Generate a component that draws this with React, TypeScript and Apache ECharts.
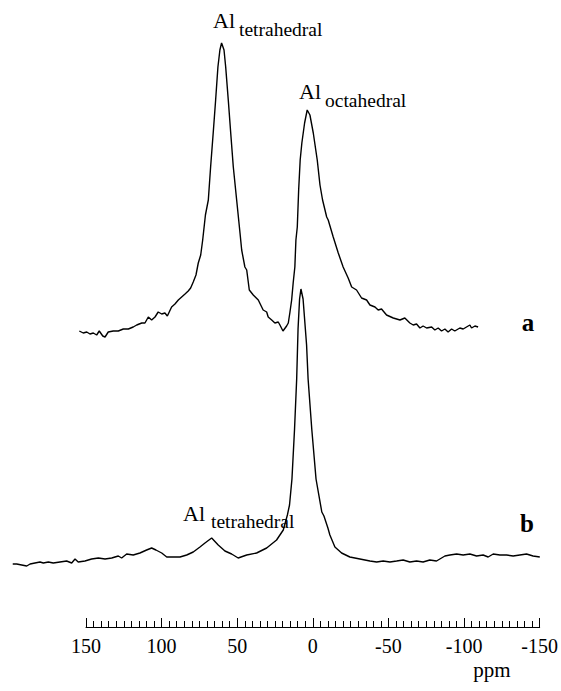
import React, { useEffect, useRef } from "react";
import * as echarts from "echarts";

// Chemical shift (ppm) and intensity (arbitrary units)
const traceA: [number, number][] = [
  [154.4, 296], [151.8, 294], [149.5, 295], [147.4, 293], [145.2, 294], [143.0, 292],
  [141.3, 296], [139.0, 291], [137.5, 290], [135.4, 295], [132.1, 296], [128.8, 296],
  [125.5, 298], [122.2, 298], [119.0, 300], [116.7, 302], [113.4, 304], [111.3, 304],
  [109.1, 310], [106.9, 307], [104.7, 310], [102.6, 315], [100.3, 313], [98.2, 314],
  [96.6, 311], [93.8, 320], [91.6, 323], [89.4, 327], [87.2, 330], [85.0, 333],
  [82.9, 336], [81.3, 339], [79.6, 345], [77.8, 352], [76.3, 364], [74.7, 372],
  [73.4, 387], [71.6, 412], [69.7, 427], [68.2, 460], [66.5, 494], [64.9, 527],
  [63.4, 560], [62.1, 577], [61.0, 584], [59.4, 577], [58.3, 560], [56.6, 527],
  [55.0, 494], [53.3, 460], [51.1, 427], [48.9, 394], [47.8, 377], [45.7, 360],
  [44.5, 357], [42.8, 337], [40.2, 332], [36.9, 327], [33.7, 317], [31.4, 315],
  [30.4, 310], [28.1, 307], [26.0, 304], [23.8, 305], [22.7, 302], [20.7, 296],
  [18.3, 301], [17.2, 304], [16.1, 315], [15.0, 327], [14.0, 344], [12.9, 360],
  [12.2, 387], [11.3, 400], [10.4, 437], [9.4, 467], [8.3, 484], [6.5, 504],
  [4.8, 517], [3.0, 512], [0.8, 494], [-1.8, 467], [-3.6, 442], [-5.3, 427],
  [-8.0, 410], [-9.0, 407], [-12.3, 390], [-15.6, 374], [-18.8, 360], [-22.1, 349],
  [-24.4, 340], [-27.6, 337], [-30.9, 329], [-34.2, 327], [-36.4, 322], [-39.7, 320],
  [-41.8, 317], [-44.0, 318], [-47.3, 312], [-51.7, 309], [-56.1, 307], [-59.3, 309],
  [-62.6, 304], [-64.8, 302], [-67.0, 303], [-69.2, 299], [-71.3, 301], [-73.6, 299],
  [-76.9, 300], [-79.0, 297], [-81.2, 299], [-83.4, 296], [-85.6, 298], [-87.7, 295],
  [-90.0, 298], [-92.1, 296], [-95.4, 299], [-97.6, 298], [-99.8, 300], [-102.0, 302],
  [-103.1, 299], [-105.3, 301], [-107.4, 300],
];

const traceB: [number, number][] = [
  [198.1, 63], [195.5, 63], [192.2, 62], [188.9, 61], [186.7, 63], [183.5, 64],
  [180.2, 65], [178.0, 64], [174.7, 65], [171.5, 64], [167.1, 65], [162.7, 66],
  [159.4, 64], [157.2, 68], [155.1, 65], [150.7, 66], [146.3, 68], [141.9, 69],
  [137.5, 68], [133.1, 69], [128.8, 71], [126.6, 69], [123.3, 73], [119.0, 72],
  [114.6, 74], [110.2, 77], [106.9, 79], [104.1, 77], [100.3, 74], [97.0, 70],
  [92.7, 70], [88.3, 70], [83.9, 72], [79.6, 75], [75.2, 80], [71.9, 84],
  [67.5, 89], [63.2, 82], [58.8, 76], [54.4, 73], [50.1, 69], [44.5, 72],
  [38.0, 74], [31.4, 79], [24.9, 87], [20.5, 97], [17.8, 112], [16.4, 122],
  [14.8, 148], [13.1, 198], [11.7, 248], [10.8, 298], [9.8, 328], [8.9, 338],
  [7.5, 328], [6.0, 298], [5.2, 282], [4.2, 248], [1.8, 198], [-1.0, 148],
  [-4.8, 115], [-6.2, 111], [-8.8, 99], [-10.1, 92], [-13.4, 80], [-17.8, 74],
  [-23.2, 70], [-29.8, 68], [-36.4, 66], [-40.8, 65], [-45.1, 66], [-49.5, 65],
  [-53.9, 66], [-58.2, 67], [-62.6, 65], [-67.0, 66], [-71.3, 65], [-75.7, 67],
  [-80.1, 66], [-83.4, 69], [-85.6, 71], [-88.9, 72], [-93.3, 73], [-97.6, 72],
  [-102.0, 73], [-106.4, 71], [-110.7, 72], [-114.0, 70], [-117.3, 73], [-121.7, 72],
  [-126.1, 72], [-130.4, 71], [-134.8, 72], [-139.2, 73], [-143.5, 71], [-147.9, 70],
];

// visible ppm ruler
const axisMin = -150;
const axisMax = 150;
const axisStep = 50;
// full chemical-shift window covered by the recorded spectra
const spectrumMin = -150;
const spectrumMax = 200;
const axisTitle = "ppm";
const traceLabels = ["a", "b"];
const peakLabels = [
  { main: "Al", sub: "tetrahedral" },
  { main: "Al", sub: "octahedral" },
  { main: "Al", sub: "tetrahedral" },
];

const SERIF = "'Liberation Serif', 'Times New Roman', serif";

export default function App() {
  const ref = useRef<HTMLDivElement>(null);

  useEffect(() => {
    if (!ref.current) return;
    const chart = echarts.init(ref.current, undefined, { renderer: "svg" });

    const txt = (
      text: string,
      x: number,
      baseline: number,
      size: number,
      align: string = "left",
      weight: string = "normal"
    ) => ({
      type: "text",
      x,
      y: baseline - 0.3375 * size,
      silent: true,
      style: {
        text,
        fill: "#000",
        font: `${weight} ${size}px ${SERIF}`,
        align,
        verticalAlign: "middle",
      },
    });

    const rulerLeft = 86;
    const right = 18;
    const pxPerPpm = (561 - right - rulerLeft) / (axisMax - axisMin);
    const dataLeft = rulerLeft - (spectrumMax - axisMax) * pxPerPpm;

    const option: any = {
      animation: false,
      backgroundColor: "#fff",
      grid: [
        { left: dataLeft, right, top: 27, bottom: 64, containLabel: false },
        { left: rulerLeft, right, top: 600, bottom: 64, containLabel: false },
      ],
      xAxis: [
        {
          gridIndex: 0,
          type: "value",
          inverse: true,
          min: spectrumMin,
          max: spectrumMax,
          show: false,
          splitLine: { show: false },
        },
        {
          gridIndex: 1,
          type: "value",
          inverse: true,
          min: axisMin,
          max: axisMax,
          interval: axisStep,
          axisLine: { show: true, onZero: false, lineStyle: { color: "#000", width: 1 } },
          axisTick: { show: true, inside: true, length: 9, lineStyle: { color: "#000", width: 1 } },
          minorTick: { show: true, splitNumber: 10, length: 6, lineStyle: { color: "#000", width: 1 } },
          splitLine: { show: false },
          minorSplitLine: { show: false },
          axisLabel: {
            color: "#000",
            fontFamily: SERIF,
            fontSize: 20,
            margin: 9,
          },
        },
      ],
      yAxis: [
        { gridIndex: 0, type: "value", min: 0, max: 600, show: false, splitLine: { show: false } },
        { gridIndex: 1, type: "value", min: 0, max: 1, show: false, splitLine: { show: false } },
      ],
      series: [
        {
          name: traceLabels[0],
          type: "line",
          xAxisIndex: 0,
          yAxisIndex: 0,
          data: traceA,
          showSymbol: false,
          lineStyle: { color: "#000", width: 1.4 },
        },
        {
          name: traceLabels[1],
          type: "line",
          xAxisIndex: 0,
          yAxisIndex: 0,
          data: traceB,
          showSymbol: false,
          lineStyle: { color: "#000", width: 1.4 },
        },
      ],
      graphic: [
        txt(peakLabels[0].main, 213, 28, 22),
        txt(peakLabels[0].sub, 239, 36.5, 19.5),
        txt(peakLabels[1].main, 299, 99, 22),
        txt(peakLabels[1].sub, 325, 107, 19.5),
        txt(peakLabels[2].main, 183, 521, 22),
        txt(peakLabels[2].sub, 211, 528, 19.5),
        txt(traceLabels[0], 528, 331, 25, "center", "bold"),
        txt(traceLabels[1], 527, 532, 25, "center", "bold"),
        txt(axisTitle, 492, 677, 21, "center"),
      ],
    };

    chart.setOption(option);
    return () => chart.dispose();
  }, []);

  return (
    <div
      ref={ref}
      style={{ position: "fixed", left: 0, top: 0, width: 561, height: 691, background: "#fff" }}
    />
  );
}
